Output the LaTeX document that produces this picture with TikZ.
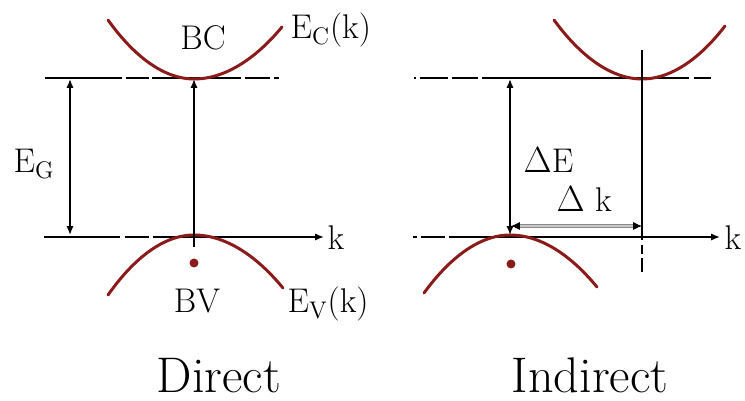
\documentclass[tikz,border=0pt]{standalone}
\usepackage{tikz}
\usetikzlibrary{arrows.meta,positioning}
\usepackage{xcolor}
\definecolor{bandred}{HTML}{8B1A1A}
\definecolor{shiftgray}{HTML}{8A8A8A}
\definecolor{shiftlight}{HTML}{C8C8C8}

\begin{document}
\begin{tikzpicture}[x=0.02cm, y=-0.02cm, >={Latex[length=5pt,width=4pt]}, line width=0.8pt]
  \useasboundingbox (0,0) rectangle (745,401);
  \coordinate (dtop0) at (45,78);  \coordinate (dtop1) at (282,78);
  \coordinate (dax0) at (44,237);  \coordinate (dax1) at (324,237);
  \coordinate (itop0) at (414,78); \coordinate (itop1) at (713,78);
  \coordinate (iax0) at (413,237); \coordinate (iax1) at (720,237);
  \draw[dash pattern=on 43.7pt off 2.5pt on 13pt off 1.7pt on 50.5pt off 2.5pt on 14.2pt off 2.5pt on 2.8pt off 5pt] (dtop0) -- (dtop1);
  \draw[->, dash pattern=on 43.1pt off 3pt on 13.6pt off 2.5pt on 300pt off 1pt] (dax0) -- (dax1);
  \draw[dash pattern=on 1.1pt off 2.3pt on 15.9pt off 2.3pt on 14.7pt off 2.3pt on 118pt off 2.5pt on 10.2pt off 5pt] (itop0) -- (itop1);
  \draw[->, dash pattern=on 2.3pt off 2.3pt on 13.6pt off 2.3pt on 300pt off 1pt] (iax0) -- (iax1);
  \foreach \xa/\ya/\xb/\yb/\xc/\yc in {108/20/194/79/282/27, 108/295/194/235/283/288, 554/20/642/79/725/26, 424/293/510/235/597/287} {
    \draw[bandred, line width=1.7pt, line cap=round] (\xa,\ya) parabola bend (\xb,\yb) (\xc,\yc);
  }
  \node[circle, fill=bandred, inner sep=0pt, minimum size=0.18cm] (dotd) at (194,263) {};
  \node[circle, fill=bandred, inner sep=0pt, minimum size=0.18cm] (doti) at (511,264) {};
  \coordinate (egtop) at (70,79);  \coordinate (egbot) at (70,235);
  \coordinate (dvtop) at (194,79); \coordinate (dvbot) at (194,247);
  \coordinate (detop) at (510,79); \coordinate (debot) at (510,235);
  \coordinate (kstop) at (642,50); \coordinate (ksbot) at (642,273);
  \coordinate (dk0) at (511,226);  \coordinate (dk1) at (642,226);
  \draw[<->] (egbot) -- (egtop);
  \draw[->] (dvbot) -- (dvtop);
  \draw[<->] (debot) -- (detop);
  \draw[dash pattern=on 108.3pt off 2.8pt on 5.1pt off 2.3pt on 7.9pt off 5pt] (kstop) -- (ksbot);
  \draw[draw=shiftgray, line width=0.5pt, double=shiftlight, double distance=1.3pt, {Latex[color=black,length=5pt,width=4.5pt]}-{Latex[color=black,length=5pt,width=4.5pt]}] (dk0) -- (dk1);
  \node[anchor=base, inner sep=0pt, font=\fontsize{19.5}{22}\selectfont] (bc) at (203,50) {BC};
  \node[anchor=base west, inner sep=0pt, font=\fontsize{19.5}{22}\selectfont] (ec) at (290,39) {E\textsubscript{C}(k)};
  \node[anchor=base west, inner sep=0pt, font=\fontsize{19.5}{22}\selectfont] (eg) at (13,173) {E\textsubscript{G}};
  \node[anchor=base, inner sep=0pt, font=\fontsize{19.5}{22}\selectfont] (bv) at (197,313) {BV};
  \node[anchor=base west, inner sep=0pt, font=\fontsize{19.5}{22}\selectfont] (ev) at (287,313) {E\textsubscript{V}(k)};
  \node[anchor=base west, inner sep=0pt, font=\fontsize{19.5}{22}\selectfont] (kd) at (327,250) {k};
  \node[anchor=base west, inner sep=0pt, font=\fontsize{19.5}{22}\selectfont] (ki) at (724,250) {k};
  \node[anchor=base west, inner sep=0pt, font=\fontsize{19.5}{22}\selectfont] (de) at (523,173) {$\Delta$E};
  \node[anchor=base west, inner sep=0pt, font=\fontsize{19.5}{22}\selectfont] (dk) at (556,212) {$\Delta$ k};
  \node[anchor=base, inner sep=0pt, font=\fontsize{28.5}{32}\selectfont] (direct) at (219,393) {Direct};
  \node[anchor=base, inner sep=0pt, font=\fontsize{28.5}{32}\selectfont] (indirect) at (590,393) {Indirect};
\end{tikzpicture}
\end{document}
